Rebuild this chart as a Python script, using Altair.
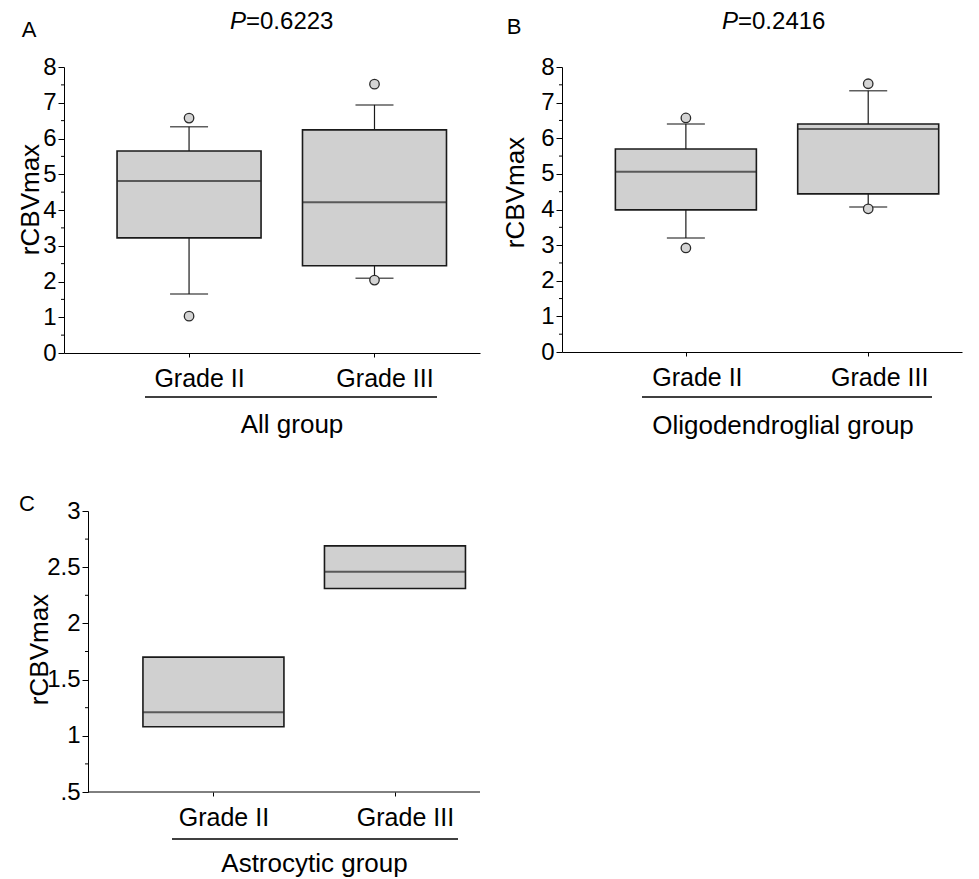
import altair as alt
import pandas as pd

FONT = "Liberation Sans"

grades = ["Grade II", "Grade III"]
grade_pos = [1, 2]

# Panel A: All group
a_q1 = [3.22, 2.44]
a_med = [4.81, 4.22]
a_q3 = [5.65, 6.24]
a_wlo = [1.65, 2.09]
a_whi = [6.33, 6.94]
a_out_pos = [1, 1, 2, 2]
a_out_val = [6.57, 1.03, 7.52, 2.04]

# Panel B: Oligodendroglial group
b_q1 = [3.99, 4.44]
b_med = [5.06, 6.26]
b_q3 = [5.70, 6.40]
b_wlo = [3.20, 4.07]
b_whi = [6.40, 7.33]
b_out_pos = [1, 1, 2, 2]
b_out_val = [6.57, 2.92, 7.53, 4.02]

# Panel C: Astrocytic group (boxes only)
c_q1 = [1.08, 2.31]
c_med = [1.21, 2.46]
c_q3 = [1.70, 2.69]

panel_letters = ["A", "B", "C"]
p_values = ["=0.6223", "=0.2416"]
group_names = ["All group", "Oligodendroglial group", "Astrocytic group"]

ab_major = [0, 1, 2, 3, 4, 5, 6, 7, 8]
ab_minor = [0.5, 1.5, 2.5, 3.5, 4.5, 5.5, 6.5, 7.5]
c_major = [0.5, 1, 1.5, 2, 2.5, 3]
c_minor = [0.75, 1.25, 1.75, 2.25, 2.75]

LABEL_EXPR = f"datum.value == 1 ? '{grades[0]}' : '{grades[1]}'"
BOX_FILL = "#d0d0d0"
DARK = "#1a1a1a"


def text_layer(txt, x, y, size, align="center", baseline="alphabetic", style="normal"):
    return alt.Chart(pd.DataFrame({"t": [txt]})).mark_text(
        font=FONT, fontSize=size, align=align, baseline=baseline,
        fontStyle=style, color="black"
    ).encode(x=alt.value(x), y=alt.value(y), text="t:N")


def panel(q1, med, q3, wlo, whi, out_pos, out_val, ydomain, ymajor, yminor,
          xdomain, width, height, box_w, letter, letter_xy, ptext, p_xy,
          group, group_xy, line_x, line_y, title_xy, label_offset,
          ylabel_expr=None, yoffset=0):
    box = pd.DataFrame({"pos": grade_pos, "grade": grades, "q1": q1, "med": med, "q3": q3})
    xs = alt.Scale(domain=xdomain, nice=False, zero=False)
    ys = alt.Scale(domain=ydomain, nice=False, zero=False)
    yaxis_kw = dict(values=ymajor, title="rCBVmax", tickSize=6, labelPadding=2,
                    labelFontSize=24, titleFontSize=26, titleFontWeight="normal",
                    titleX=title_xy[0], titleY=title_xy[1], titleAngle=-90,
                    titleAlign="center", titleBaseline="middle", grid=False,
                    domainColor="black", tickColor="black", labelColor="black",
                    labelFont=FONT, titleFont=FONT, titleColor="black", offset=yoffset)
    if ylabel_expr:
        yaxis_kw["labelExpr"] = ylabel_expr
    yaxis = alt.Axis(**yaxis_kw)
    xaxis = alt.Axis(values=grade_pos, labelExpr=LABEL_EXPR, tickSize=4, title=None,
                     labelFontSize=25, labelBaseline="alphabetic", labelPadding=29,
                     labelOffset=label_offset, grid=False, domainColor="black",
                     domain=(yoffset == 0), labelFont=FONT,
                     tickColor="black", labelColor="black", labelFlush=False)
    X = alt.X("pos:Q", scale=xs, axis=xaxis, title=None)

    def Y(f):
        return alt.Y(f, scale=ys, axis=yaxis, title="rCBVmax")

    layers = [alt.Chart(box).mark_bar(size=box_w, fill=BOX_FILL, stroke=DARK, strokeWidth=1.6).encode(
        x=X, y=Y("q1:Q"), y2="q3:Q")]
    if wlo is not None:
        wb = pd.DataFrame({"pos": grade_pos, "q1": q1, "q3": q3, "wlo": wlo, "whi": whi})
        layers.append(alt.Chart(wb).mark_rule(color=DARK, strokeWidth=1.2).encode(
            x=X, y=Y("q3:Q"), y2="whi:Q"))
        layers.append(alt.Chart(wb).mark_rule(color=DARK, strokeWidth=1.2).encode(
            x=X, y=Y("q1:Q"), y2="wlo:Q"))
        layers.append(alt.Chart(wb).mark_tick(orient="horizontal", size=38, thickness=1.5, color=DARK).encode(
            x=X, y=Y("whi:Q")))
        layers.append(alt.Chart(wb).mark_tick(orient="horizontal", size=38, thickness=1.5, color=DARK).encode(
            x=X, y=Y("wlo:Q")))
    layers.append(alt.Chart(box).mark_tick(orient="horizontal", size=box_w, thickness=2, color="#262626").encode(
        x=X, y=Y("med:Q")))
    if out_pos is not None:
        od = pd.DataFrame({"pos": out_pos, "v": out_val})
        layers.append(alt.Chart(od).mark_point(shape="circle", filled=True, size=90, fill="#d4d4d4",
                                               stroke="#2a2a2a", strokeWidth=1.3, opacity=1).encode(
            x=X, y=Y("v:Q")))
    mn = pd.DataFrame({"v": yminor})
    ax0 = -yoffset
    layers.append(alt.Chart(mn).mark_rule(color="black", strokeWidth=1).encode(
        x=alt.value(ax0 - 3), x2=alt.value(ax0), y=Y("v:Q")))
    if yoffset != 0:
        layers.append(alt.Chart(pd.DataFrame({"t": [0]})).mark_rule(color="black", strokeWidth=1).encode(
            x=alt.value(ax0), x2=alt.value(width), y=alt.value(height)))
    # decorations
    layers.append(alt.Chart(pd.DataFrame({"t": [0]})).mark_rule(color="black", strokeWidth=1.6).encode(
        x=alt.value(line_x[0]), x2=alt.value(line_x[1]), y=alt.value(line_y)))
    layers.append(text_layer(group, group_xy[0], group_xy[1], 26))
    layers.append(text_layer(letter, letter_xy[0], letter_xy[1], 22, baseline="middle"))
    if ptext is not None:
        layers.append(text_layer("P", p_xy[0], p_xy[1], 24, align="left", style="italic"))
        layers.append(text_layer(ptext, p_xy[0] + 16.0, p_xy[1], 24, align="left"))
    return alt.layer(*layers).properties(
        width=width, height=height,
        view=alt.ViewBackground(stroke="transparent", strokeWidth=0))


A = panel(a_q1, a_med, a_q3, a_wlo, a_whi, a_out_pos, a_out_val, [0, 8], ab_major, ab_minor,
          [0.3526, 2.542], 416, 286, 144, panel_letters[0], (-35, -37), p_values[0], (166, -38),
          group_names[0], (228, 366), (81, 373), 330, (-33.5, 132), 10)

B = panel(b_q1, b_med, b_q3, b_wlo, b_whi, b_out_pos, b_out_val, [0, 8], ab_major, ab_minor,
          [0.348, 2.487], 400, 285, 141, panel_letters[1], (-48, -40), p_values[1], (160, -38),
          group_names[1], (221, 367), (80, 370), 330, (-47, 125), 11)

C = panel(c_q1, c_med, c_q3, None, None, None, None, [0.5, 3], c_major, c_minor,
          [0.2043, 2.4409], 416, 281, 141, panel_letters[2], (-37, -7), None, None,
          group_names[2], (250.5, 361), (108, 394), 328, (-49, 138), 10,
          ylabel_expr="datum.value == 0.5 ? '.5' : format(datum.value, '~g')", yoffset=-24)

chart = alt.concat(A, B, C, columns=2, spacing={"row": 158, "column": 82}, bounds="flush").properties(
    padding={"left": 9, "top": 2, "right": 5, "bottom": 0},
    background="white"
).configure_view(strokeWidth=0, stroke="transparent")

chart.save("out.html", embed_options={"renderer": "svg", "actions": False})
